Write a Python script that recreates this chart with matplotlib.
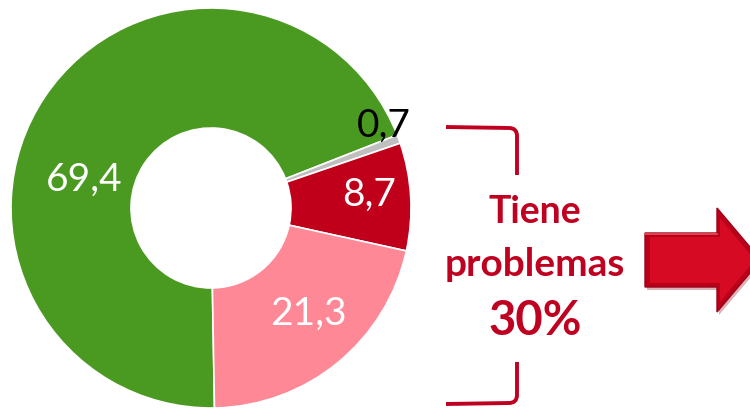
import matplotlib
matplotlib.use('Agg')
import matplotlib.pyplot as plt
from matplotlib.path import Path
from matplotlib.patches import PathPatch, Polygon

# data
labels = ['69,4', '0,7', '8,7', '21,3']
values = [69.4, 0.7, 8.7, 21.3]
colors = ['#4A9A22', '#BFBFBF', '#C0001A', '#FF8896']
label_colors = ['white', 'black', 'white', 'white']
label_xy = [(-0.635, 0.14), (0.865, 0.41), (0.79, 0.065), (0.485, -0.53)]
summary_lines = ['Tiene', 'problemas', '30%']

W, H = 750, 412
fig = plt.figure(figsize=(W / 100, H / 100), dpi=100)

# donut
ax = fig.add_axes([11 / W, (H - 408) / H, 400 / W, 400 / H])
ax.pie(values, colors=colors, startangle=271, counterclock=False, radius=1,
       wedgeprops=dict(width=0.6, edgecolor='white', linewidth=1.2))
for lab, (x, y), c in zip(labels, label_xy, label_colors):
    ax.text(x, y, lab, color=c, fontsize=28, family='Lato',
            ha='center', va='center')
ax.set_xlim(-1, 1)
ax.set_ylim(-1, 1)
ax.set_aspect('equal')
ax.axis('off')

# overlay in pixel coords
ov = fig.add_axes([0, 0, 1, 1])
ov.set_xlim(0, W)
ov.set_ylim(H, 0)
ov.axis('off')
red = '#C00020'

r = 8
top = [(446, 127), (517 - r, 128), (517, 128), (517, 128 + r), (517, 175)]
bot = [(517, 362), (517, 403 - r), (517, 403), (517 - r, 403), (446, 404)]
codes = [Path.MOVETO, Path.LINETO, Path.CURVE3, Path.CURVE3, Path.LINETO]
for pts in (top, bot):
    ov.add_patch(PathPatch(Path(pts, codes), fill=False, edgecolor=red,
                           lw=2.8, capstyle='butt', joinstyle='round'))

ov.text(535, 212, summary_lines[0], color=red, fontsize=27, fontweight='bold',
        family='Lato', ha='center', va='center')
ov.text(535, 265, summary_lines[1], color=red, fontsize=28, fontweight='bold',
        family='Lato', ha='center', va='center')
ov.text(535, 321, summary_lines[2], color=red, fontsize=34, fontweight='bold',
        family='Lato', ha='center', va='center')

# arrow
arrow = [(645, 233), (717, 233), (717, 208), (761, 260), (717, 312),
         (717, 287), (645, 287)]
ov.add_patch(Polygon([(x + 2, y + 3) for x, y in arrow], closed=True,
                     facecolor='#8A0010', edgecolor='none', alpha=0.3))
ov.add_patch(Polygon(arrow, closed=True, facecolor='#B80018',
                     edgecolor='#A0001A', lw=1.0))
inner = [(650, 237), (720, 237), (720, 218), (755, 260), (720, 302),
         (720, 283), (650, 283)]
ov.add_patch(Polygon(inner, closed=True, facecolor='#D60A22',
                     edgecolor='none'))
ov.plot([645, 717], [233.5, 233.5], color='#E8505E', lw=1.2)

fig.savefig('out.png', dpi=100)
